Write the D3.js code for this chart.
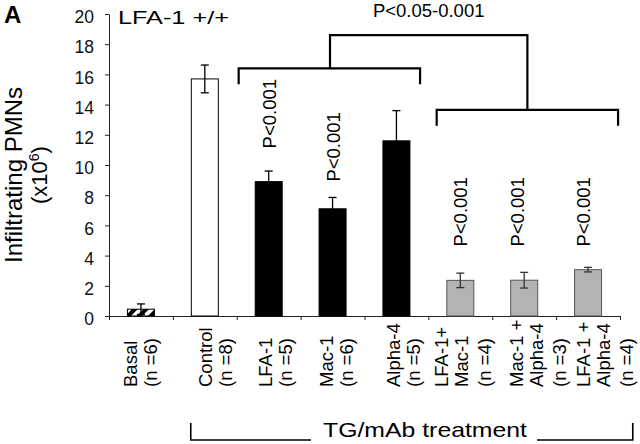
<!DOCTYPE html>
<html>
<head>
<meta charset="utf-8">
<script src="https://cdn.jsdelivr.net/npm/d3@7"></script>
<style>
  body { margin: 0; background: #fff; }
  svg { display: block; font-family: "Liberation Sans", Arial, sans-serif; }
</style>
</head>
<body>
<svg width="640" height="444"></svg>
<script>
// values
var categories = ["Basal", "Control", "LFA-1", "Mac-1", "Alpha-4", "LFA-1+Mac-1", "Mac-1+Alpha-4", "LFA-1+Alpha-4"];
var catLabels = [
    ["Basal", "(n =6)"],
    ["Control", "(n =8)"],
    ["LFA-1", "(n =5)"],
    ["Mac-1", "(n =6)"],
    ["Alpha-4", "(n =5)"],
    ["LFA-1+", "Mac-1", "(n =4)"],
    ["Mac-1 +", "Alpha-4", "(n =3)"],
    ["LFA-1 +", "Alpha-4", "(n =4)"]
];
var means = [0.45, 15.7, 8.9, 7.1, 11.6, 2.36, 2.37, 3.07];
var errors = [0.35, 0.92, 0.7, 0.75, 2.0, 0.48, 0.52, 0.15];
var groups = ["basal", "control", "single", "single", "single", "combo", "combo", "combo"];
var yTicks = [0, 2, 4, 6, 8, 10, 12, 14, 16, 18, 20];
// rotated P labels over bars: category index, text, value where text starts
var pLabels = [
    [2, "P<0.001", 11.1],
    [3, "P<0.001", 8.9],
    [5, "P<0.001", 4.6],
    [6, "P<0.001", 4.6],
    [7, "P<0.001", 4.6]
];

var svg = d3.select("svg");
var plotL = 109, plotR = 620, plotT = 14, plotB = 316;

var x = d3.scaleBand().domain(categories).range([plotL, plotR]).padding(0);
var xi = d3.scaleLinear().domain([0, categories.length]).range([plotL, plotR]);
var y = d3.scaleLinear().domain([0, 20]).range([plotB, plotT]);

var fills = {basal: "url(#hatch)", control: "#fff", single: "#000", combo: "#b3b3b3"};
var strokes = {basal: "#000", control: "#000", single: "#000", combo: "#555"};
var barW = 27;
var labelShift = [-4, 7, 3, 0, 4, -12, -1, 2];

var defs = svg.append("defs");
var pat = defs.append("pattern")
    .attr("id", "hatch")
    .attr("patternUnits", "userSpaceOnUse")
    .attr("width", 8).attr("height", 8)
    .attr("patternTransform", "rotate(45)");
pat.append("rect").attr("width", 8).attr("height", 8).attr("fill", "#fff");
pat.append("rect").attr("width", 4).attr("height", 8).attr("fill", "#000");

// axes
var yAxis = svg.append("g")
    .attr("transform", "translate(" + plotL + ",0)")
    .call(d3.axisLeft(y).tickValues(yTicks).tickSize(4).tickSizeOuter(0).tickPadding(11));
yAxis.selectAll("text").attr("font-size", 17.5).attr("font-family", null).attr("dy", "0.5em").attr("fill", "#111");
yAxis.selectAll("line,path").attr("stroke", "#222");

var xAxis = svg.append("g")
    .attr("transform", "translate(0," + plotB + ")")
    .call(d3.axisBottom(xi).tickValues(d3.range(0, categories.length + 1)).tickSize(4).tickSizeOuter(0).tickFormat(""));
xAxis.selectAll("line,path").attr("stroke", "#222");

// bars
svg.selectAll(".bar")
    .data(categories)
    .enter().append("rect")
    .attr("x", function(d) { return x(d) + (x.bandwidth() - barW) / 2; })
    .attr("y", function(d, i) { return y(means[i]); })
    .attr("width", barW)
    .attr("height", function(d, i) { return y(0) - y(means[i]); })
    .attr("fill", function(d, i) { return fills[groups[i]]; })
    .attr("stroke", function(d, i) { return strokes[groups[i]]; })
    .attr("stroke-width", 1);

// error bars
var eb = svg.selectAll(".err")
    .data(categories)
    .enter().append("g")
    .attr("stroke", function(d, i) { return groups[i] == "combo" ? "#333" : "#000"; })
    .attr("stroke-width", 1.3);
eb.append("line")
    .attr("x1", function(d) { return x(d) + x.bandwidth() / 2; })
    .attr("x2", function(d) { return x(d) + x.bandwidth() / 2; })
    .attr("y1", function(d, i) { return y(means[i] - errors[i]); })
    .attr("y2", function(d, i) { return y(means[i] + errors[i]); });
[1, -1].forEach(function(s) {
    eb.append("line")
        .attr("x1", function(d) { return x(d) + x.bandwidth() / 2 - 4; })
        .attr("x2", function(d) { return x(d) + x.bandwidth() / 2 + 4; })
        .attr("y1", function(d, i) { return y(means[i] + s * errors[i]); })
        .attr("y2", function(d, i) { return y(means[i] + s * errors[i]); });
});

// P labels over bars
svg.selectAll(".plab")
    .data(pLabels)
    .enter().append("text")
    .attr("transform", function(d) {
        var cx = x(categories[d[0]]) + x.bandwidth() / 2 + 7 + (d[0] == 6 ? -7 : d[0] == 7 ? -5 : 0);
        return "translate(" + cx + "," + y(d[2]) + ") rotate(-90)";
    })
    .attr("font-size", 18.5)
    .text(function(d) { return d[1]; });

// category labels
catLabels.forEach(function(lines, i) {
    var cx = x(categories[i]) + x.bandwidth() / 2 + labelShift[i];
    lines.forEach(function(t, j) {
        var off = j * 20 + (lines.length == 3 && j == 2 ? 3 : 0);
        svg.append("text")
            .attr("transform", "translate(" + (cx + off) + ",387) rotate(-90)")
            .attr("font-size", 18.5)
            .text(t);
    });
});

// significance brackets (category index, value)
var brackets = [
    [[2.03, 15.35], [2.03, 16.4], [4.87, 16.4], [4.87, 15.35]],
    [[5.13, 12.6], [5.13, 13.65], [7.97, 13.65], [7.97, 12.6]],
    [[3.46, 16.4], [3.46, 18.6], [6.55, 18.6], [6.55, 13.65]]
];
var line = d3.line().x(function(d) { return xi(d[0]); }).y(function(d) { return y(d[1]); });
svg.selectAll(".brk")
    .data(brackets)
    .enter().append("path")
    .attr("d", line)
    .attr("fill", "none")
    .attr("stroke", "#000")
    .attr("stroke-width", 2.2);

svg.append("text")
    .attr("x", (xi(3.46) + xi(6.55)) / 2)
    .attr("y", 17)
    .attr("text-anchor", "middle")
    .attr("font-size", 18.5)
    .text("P<0.05-0.001");

// treatment bracket under labels
svg.append("path")
    .attr("d", d3.line()([[xi(1.28), 423], [xi(1.28), 440], [311, 440]]))
    .attr("fill", "none").attr("stroke", "#000").attr("stroke-width", 1.6);
svg.append("path")
    .attr("d", d3.line()([[537, 440], [xi(8.2), 440], [xi(8.2), 423]]))
    .attr("fill", "none").attr("stroke", "#000").attr("stroke-width", 1.6);
svg.append("text")
    .attr("x", 323).attr("y", 437)
    .attr("font-size", 21)
    .attr("textLength", 204).attr("lengthAdjust", "spacingAndGlyphs")
    .text("TG/mAb treatment");

// titles
svg.append("text")
    .attr("x", 4).attr("y", 23)
    .attr("font-size", 24).attr("font-weight", "bold")
    .text("A");
svg.append("text")
    .attr("x", 118).attr("y", 24)
    .attr("font-size", 19)
    .attr("textLength", 111).attr("lengthAdjust", "spacingAndGlyphs")
    .text("LFA-1 +/+");

var yl = svg.append("g").attr("transform", "translate(0,175) rotate(-90)");
yl.append("text")
    .attr("x", 0).attr("y", 22)
    .attr("text-anchor", "middle")
    .attr("font-size", 24)
    .text("Infiltrating PMNs");
var t2 = yl.append("text")
    .attr("x", 0).attr("y", 47)
    .attr("text-anchor", "middle")
    .attr("font-size", 22);
t2.append("tspan").text("(x10");
t2.append("tspan").attr("font-size", 14).attr("dy", -8).text("6");
t2.append("tspan").attr("dy", 8).text(")");
</script>
</body>
</html>
